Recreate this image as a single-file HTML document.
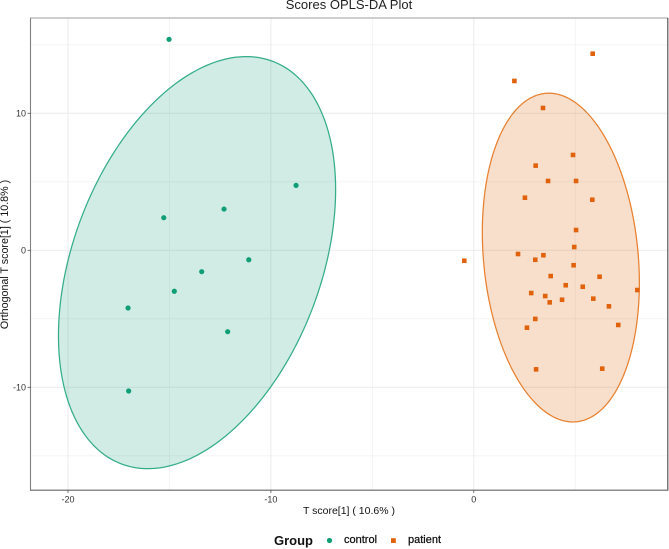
<!DOCTYPE html>
<html lang="en">
<head>
<meta charset="utf-8">
<title>Scores OPLS-DA Plot</title>
<style>
html,body{margin:0;padding:0;background:#fff;}
body{width:669px;height:549px;overflow:hidden;}
svg{display:block;font-family:"Liberation Sans",sans-serif;}
</style>
</head>
<body>
<svg id="chart" width="669" height="549" viewBox="0 0 669 549" xmlns="http://www.w3.org/2000/svg">
<rect width="669" height="549" fill="#fff"/>
<g id="grid"></g>
<g id="ellipses"></g>
<g id="points"></g>
<g id="frame">
<line x1="30" y1="18" x2="668" y2="18" stroke="#bdbdbd" stroke-width="1.4"/>
<line x1="667.8" y1="18" x2="667.8" y2="490.5" stroke="#555" stroke-width="1.2"/>
<line x1="30.5" y1="18" x2="30.5" y2="490.5" stroke="#808080" stroke-width="1.1"/>
<line x1="30" y1="490.2" x2="668" y2="490.2" stroke="#666" stroke-width="1.2"/>
</g>
<g id="ticks"></g>
<text x="349" y="9" font-size="13" fill="#222" text-anchor="middle">Scores OPLS-DA Plot</text>
<text x="349" y="514" font-size="10.5" fill="#111" text-anchor="middle">T score[1] ( 10.6% )</text>
<text transform="translate(8,254.5) rotate(-90)" font-size="10.7" fill="#111" text-anchor="middle">Orthogonal T score[1] ( 10.8% )</text>
<g>
<text x="274" y="545" font-size="13" font-weight="bold" fill="#111">Group</text>
<circle cx="329.5" cy="540.5" r="2.6" fill="#0f9e75"/>
<text x="344" y="543" font-size="11" fill="#111" stroke="#111" stroke-width="0.25">control</text>
<rect x="391" y="538.2" width="4.8" height="4.8" fill="#e0620d"/>
<text x="408" y="543" font-size="11" fill="#111" stroke="#111" stroke-width="0.25">patient</text>
</g>
</svg>
<script>
const xMajorTicks = [-20, -10, 0];
const xMinorTicks = [-15, -5, 5];
const yMajorTicks = [10, 0, -10];
const yMinorTicks = [15, 5, -5, -15];

const controlX = [-15.02, -8.76, -15.28, -12.31, -11.09, -13.41, -14.76, -17.04, -12.13, -17.01];
const controlY = [15.4, 4.74, 2.38, 3.01, -0.69, -1.56, -2.99, -4.21, -5.94, -10.27];

const patientX = [5.86, 2.0, 3.41, 4.89, 3.05, 3.66, 5.04, 2.52, 5.84, 5.04, 4.95, 2.18, 3.43, 3.03, 4.92, -0.47, 3.79, 6.2, 4.53, 5.37, 8.06, 2.83, 3.52, 3.74, 4.35, 5.89, 6.66, 7.12, 3.03, 2.62, 3.07, 6.33];
const patientY = [14.35, 12.36, 10.39, 6.96, 6.18, 5.06, 5.06, 3.84, 3.69, 1.48, 0.24, -0.27, -0.36, -0.69, -1.09, -0.76, -1.88, -1.93, -2.55, -2.66, -2.9, -3.12, -3.34, -3.8, -3.61, -3.53, -4.09, -5.45, -5.01, -5.65, -8.69, -8.64];

/* ellipse parameters in data units: centre x, centre y, x radius, y radius, correlation */
const controlEllipse = [-13.64, -0.9, 6.83, 15.04, 0.355];
const patientEllipse = [4.29, -0.53, 3.87, 12.0, -0.153];

const NS = 'http://www.w3.org/2000/svg';
const sx = v => 473.8 + 20.29 * v;
const sy = v => 250.3 - 13.7 * v;
const PL = 31, PR = 667.5, PT = 18.5, PB = 490;

function mk(parent, tag, attrs) {
  const el = document.createElementNS(NS, tag);
  for (const k in attrs) el.setAttribute(k, attrs[k]);
  parent.appendChild(el);
  return el;
}

const gridG = document.getElementById('grid');
const ellG = document.getElementById('ellipses');
const ptG = document.getElementById('points');
const tickG = document.getElementById('ticks');

xMinorTicks.forEach(v => {
  const l = mk(gridG, 'line', {x1: sx(v), x2: sx(v), y1: PT, y2: PB, stroke: '#f2f2f2', 'stroke-width': 0.8});
  
  
});
yMinorTicks.forEach(v => {
  const l = mk(gridG, 'line', {x1: PL, x2: PR, y1: sy(v), y2: sy(v), stroke: '#f2f2f2', 'stroke-width': 0.8});
  
  
});
xMajorTicks.forEach(v => {
  const l = mk(gridG, 'line', {x1: sx(v), x2: sx(v), y1: PT, y2: PB, stroke: '#ebebeb', 'stroke-width': 1});
  
  
  const t = mk(tickG, 'line', {x1: sx(v), x2: sx(v), y1: PB, y2: PB + 3, stroke: '#555', 'stroke-width': 0.8});
  
  
  const s = mk(tickG, 'text', {x: sx(v), y: 502.5, 'font-size': 9, fill: '#333', 'text-anchor': 'middle'});
  s.textContent = String(v);
  
  
});
yMajorTicks.forEach(v => {
  const l = mk(gridG, 'line', {x1: PL, x2: PR, y1: sy(v), y2: sy(v), stroke: '#ebebeb', 'stroke-width': 1});
  
  
  const t = mk(tickG, 'line', {x1: 27.5, x2: PL, y1: sy(v), y2: sy(v), stroke: '#555', 'stroke-width': 0.8});
  
  
  const s = mk(tickG, 'text', {x: 26, y: sy(v) + 3.2, 'font-size': 9, fill: '#333', 'text-anchor': 'end'});
  s.textContent = String(v);
  
  
});

function ellipsePath(p) {
  const d = Math.acos(p[4]);
  let out = '';
  for (let i = 0; i <= 180; i++) {
    const t = i / 180 * 2 * Math.PI;
    const x = p[0] + p[2] * Math.cos(t);
    const y = p[1] + p[3] * Math.cos(t - d);
    out += (i ? 'L' : 'M') + sx(x).toFixed(2) + ' ' + sy(y).toFixed(2);
  }
  return out + 'Z';
}

const e1 = mk(ellG, 'path', {d: ellipsePath(controlEllipse), fill: '#1b9e77', 'fill-opacity': 0.2, stroke: '#35ad89', 'stroke-width': 1.25});


const e2 = mk(ellG, 'path', {d: ellipsePath(patientEllipse), fill: '#d95f02', 'fill-opacity': 0.2, stroke: '#e8802f', 'stroke-width': 1.25});



controlX.forEach((v, i) => {
  const c = mk(ptG, 'circle', {cx: sx(v), cy: sy(controlY[i]), r: 2.6, fill: '#0f9e75'});
  
  
});
patientX.forEach((v, i) => {
  const r = mk(ptG, 'rect', {x: sx(v) - 2.3, y: sy(patientY[i]) - 2.3, width: 4.6, height: 4.6, fill: '#e0620d'});
  
  
});
</script>
</body>
</html>
